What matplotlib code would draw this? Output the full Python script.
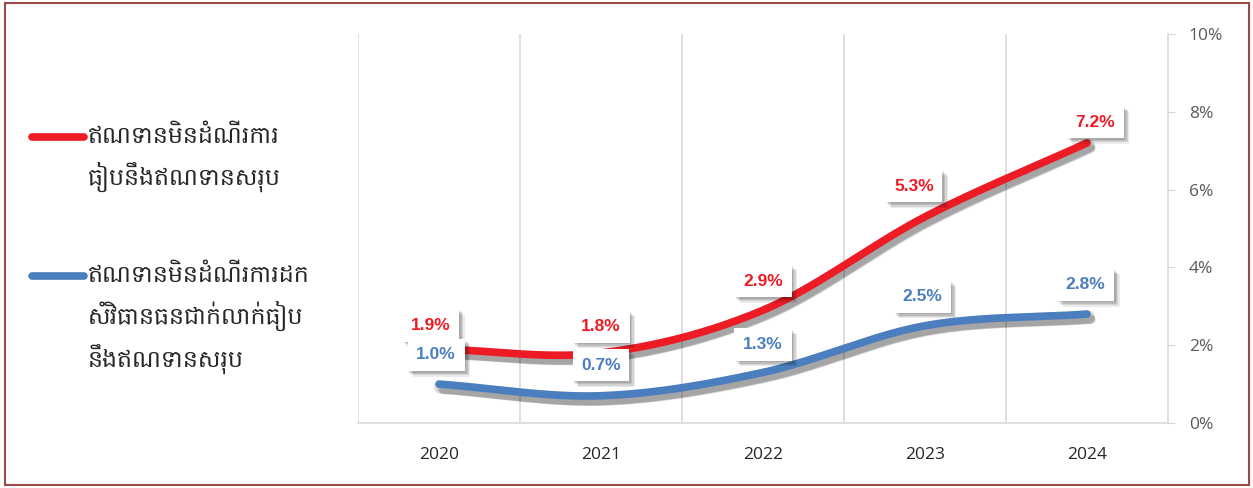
import numpy as np
import matplotlib
matplotlib.use("Agg")
import matplotlib.pyplot as plt
import matplotlib.patheffects as pe
from matplotlib import font_manager
from matplotlib.patches import Rectangle

years = ["2020", "2021", "2022", "2023", "2024"]
npl_restructured = [1.9, 1.8, 2.9, 5.3, 7.2]
npl_downgraded = [1.0, 0.7, 1.3, 2.5, 2.8]
labels_red = ["1.9%", "1.8%", "2.9%", "5.3%", "7.2%"]
labels_blue = ["1.0%", "0.7%", "1.3%", "2.5%", "2.8%"]
legend_red = "ឥណទានមិនដំណើរការ\nធៀបនឹងឥណទានសរុប"
legend_blue = "ឥណទានមិនដំណើរការដក\nសំវិធានធនជាក់លាក់ធៀប\nនឹងឥណទានសរុប"
yticks = [0, 2, 4, 6, 8, 10]

RED = "#ED1C24"
BLUE = "#4A7EBE"

# pick a font with Khmer glyphs if one is around
khmer_fam = None
for f in font_manager.fontManager.ttflist:
    if "khmer" in f.name.lower() or "hanuman" in f.name.lower():
        khmer_fam = f.name
        break
legend_fonts = [khmer_fam, "DejaVu Sans"] if khmer_fam else ["DejaVu Sans"]


def smooth(y, n=40):
    # catmull-rom style curve through the points, like excel's smoothed line
    y = np.asarray(y, float)
    x = np.arange(len(y), dtype=float)
    px = np.concatenate([[2 * x[0] - x[1]], x, [2 * x[-1] - x[-2]]])
    py = np.concatenate([[2 * y[0] - y[1]], y, [2 * y[-1] - y[-2]]])
    xs, ys = [], []
    t = np.linspace(0, 1, n)
    for i in range(1, len(px) - 2):
        for arr, out in ((px, xs), (py, ys)):
            p0, p1, p2, p3 = arr[i - 1:i + 3]
            m1 = (p2 - p0) / 2
            m2 = (p3 - p1) / 2
            h00 = 2 * t**3 - 3 * t**2 + 1
            h10 = t**3 - 2 * t**2 + t
            h01 = -2 * t**3 + 3 * t**2
            h11 = t**3 - t**2
            out.extend(h00 * p1 + h10 * m1 + h01 * p2 + h11 * m2)
    return np.array(xs), np.array(ys)


fig = plt.figure(figsize=(12.53, 4.88), dpi=100)
fig.patches.append(Rectangle((5 / 1253, 3 / 488), 1244 / 1253, 482 / 488,
                             transform=fig.transFigure, fill=False,
                             edgecolor="#A0474A", linewidth=1.5))

ax = fig.add_axes([358 / 1253, (488 - 423) / 488, 810 / 1253, 389 / 488])
ax.set_xlim(-0.5, 4.5)
ax.set_ylim(0, 10)

for xb in np.arange(0.5, 4.0, 1.0):
    ax.axvline(xb, color="#D9D9D9", lw=1.2, zorder=0)
ax.axvline(-0.5, color="#D9D9D9", lw=1.2, zorder=0)

# soft drop shadow: a few faint offset copies
line_fx = [pe.SimpleLineShadow(offset=(o, -o - 1), shadow_color="black",
                               alpha=0.10, linewidth=5.5 + w)
           for o, w in ((1, 4), (2, 2.5), (3, 1), (3, 0))] + [pe.Normal()]
for vals, col in ((npl_downgraded, BLUE), (npl_restructured, RED)):
    sx, sy = smooth(vals)
    ax.plot(sx, sy, color=col, lw=5.5, solid_capstyle="round",
            path_effects=line_fx, zorder=3)

red_off = [(-6, 17), (0, 19), (0, 21), (-8, 22), (6, 15)]
blue_off = [(-2, 21), (0, 22), (0, 20), (-2, 21), (-1, 21)]
box_fx = [pe.SimplePatchShadow(offset=(o, -o), shadow_rgbFace="black", alpha=a)
          for o, a in ((1, 0.10), (2, 0.10), (3, 0.10), (4, 0.08))] + [pe.Normal()]
for vals, labs, offs, col in ((npl_restructured, labels_red, red_off, RED),
                              (npl_downgraded, labels_blue, blue_off, BLUE)):
    for i, (v, lab) in enumerate(zip(vals, labs)):
        t = ax.annotate(lab, (i, v), xytext=offs[i], textcoords="offset points",
                        ha="center", va="center", color=col, fontsize=12.5,
                        fontweight="bold", family="Liberation Sans", zorder=5,
                        bbox=dict(boxstyle="square,pad=0.5", fc="white", ec="none"))
        t.get_bbox_patch().set_path_effects(box_fx)

ax.spines[["top", "left"]].set_visible(False)
ax.spines["right"].set_color("#D9D9D9")
ax.spines["bottom"].set_color("#D9D9D9")
ax.spines["right"].set_linewidth(1.2)
ax.spines["bottom"].set_linewidth(1.2)
ax.yaxis.tick_right()
ax.set_yticks(yticks)
ax.set_yticklabels([f"{v}%" for v in yticks], color="#595959", fontsize=12.5,
                   family="Open Sans")
ax.tick_params(axis="y", length=5, color="#D9D9D9", pad=10)
ax.set_xticks(range(len(years)))
ax.set_xticklabels(years, color="#262626", fontsize=12.5, family="Open Sans")
ax.tick_params(axis="x", length=0, pad=17)

# legend drawn by hand on the left
for y0, col, txt in ((1 - 137 / 488, RED, legend_red), (1 - 276 / 488, BLUE, legend_blue)):
    fig.add_artist(plt.Line2D([32 / 1253, 84 / 1253], [y0, y0], color=col, lw=5.5,
                              solid_capstyle="round", transform=fig.transFigure))
    fig.text(88 / 1253, y0 + 0.025, txt, ha="left", va="top", fontsize=17,
             color="#262626", family=legend_fonts, linespacing=1.6)

fig.savefig("out.png", dpi=100)
